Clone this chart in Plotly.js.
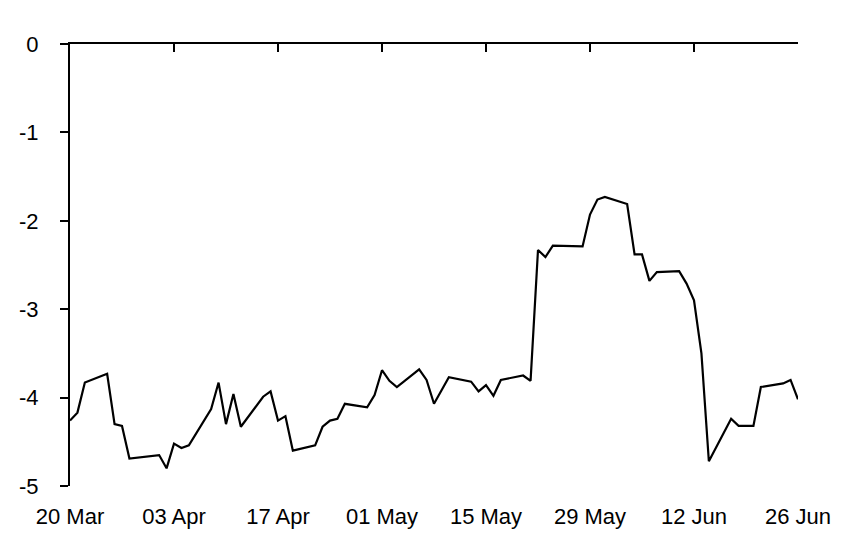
<!DOCTYPE html>
<html>
<head>
<meta charset="utf-8">
<script src="https://cdn.plot.ly/plotly-3.0.1.min.js"></script>
<style>html,body{margin:0;padding:0;background:#fff;}#chart{width:852px;height:539px;}</style>
</head>
<body>
<div id="chart"></div>
<script>
const dates = [
  "2019-03-20","2019-03-21","2019-03-22","2019-03-25","2019-03-26","2019-03-27","2019-03-28",
  "2019-04-01","2019-04-02","2019-04-03","2019-04-04","2019-04-05",
  "2019-04-08","2019-04-09","2019-04-10","2019-04-11","2019-04-12",
  "2019-04-15","2019-04-16","2019-04-17","2019-04-18","2019-04-19",
  "2019-04-22","2019-04-23","2019-04-24","2019-04-25","2019-04-26",
  "2019-04-29","2019-04-30","2019-05-01","2019-05-02","2019-05-03",
  "2019-05-06","2019-05-07","2019-05-08","2019-05-10",
  "2019-05-13","2019-05-14","2019-05-15","2019-05-16","2019-05-17",
  "2019-05-20","2019-05-21","2019-05-22","2019-05-23","2019-05-24",
  "2019-05-28","2019-05-29","2019-05-30","2019-05-31",
  "2019-06-03","2019-06-04","2019-06-05","2019-06-06","2019-06-07",
  "2019-06-10","2019-06-11","2019-06-12","2019-06-13","2019-06-14",
  "2019-06-17","2019-06-18","2019-06-20","2019-06-21",
  "2019-06-24","2019-06-25","2019-06-26"
];
const values = [
  -4.26,-4.17,-3.83,-3.73,-4.30,-4.32,-4.69,
  -4.65,-4.80,-4.52,-4.57,-4.54,
  -4.13,-3.83,-4.30,-3.96,-4.33,
  -3.99,-3.93,-4.26,-4.21,-4.60,
  -4.54,-4.33,-4.26,-4.24,-4.07,
  -4.11,-3.97,-3.69,-3.81,-3.88,
  -3.68,-3.80,-4.07,-3.77,
  -3.82,-3.93,-3.86,-3.98,-3.80,
  -3.75,-3.81,-2.33,-2.41,-2.28,
  -2.29,-1.93,-1.76,-1.73,
  -1.81,-2.38,-2.38,-2.68,-2.58,
  -2.57,-2.71,-2.90,-3.50,-4.72,
  -4.24,-4.32,-4.32,-3.88,
  -3.84,-3.80,-4.02
];
const yTickVals = [0, -1, -2, -3, -4, -5];
const yTickText = ["0", "-1", "-2", "-3", "-4", "-5"];
const xStart = "2019-03-20";
const xEnd = "2019-06-26";

const font = {family: "Arial, 'Liberation Sans', sans-serif", size: 22, color: "#000"};

const trace = {
  x: dates, y: values, type: "scatter", mode: "lines",
  line: {color: "#000", width: 2.2}, hoverinfo: "skip", showlegend: false
};
const dummyTop = {
  x: [xStart, xEnd], y: [null, null], xaxis: "x2", yaxis: "y",
  type: "scatter", mode: "lines", showlegend: false, hoverinfo: "skip"
};

const layout = {
  width: 852, height: 539,
  margin: {l: 70, r: 54, t: 44, b: 53, pad: 0},
  paper_bgcolor: "#fff", plot_bgcolor: "#fff",
  font: font,
  xaxis: {
    type: "date", range: [xStart, xEnd],
    tick0: xStart, dtick: 14 * 86400000, tickformat: "%d %b",
    showline: false, ticks: "", showgrid: false, zeroline: false,
    tickfont: font, ticklabelstandoff: 15
  },
  xaxis2: {
    type: "date", range: [xStart, xEnd], overlaying: "x", side: "top", anchor: "y",
    tick0: xStart, dtick: 14 * 86400000,
    showline: true, linecolor: "#000", linewidth: 2,
    ticks: "inside", ticklen: 8, tickwidth: 2, tickcolor: "#000",
    showticklabels: false, showgrid: false, zeroline: false
  },
  yaxis: {
    range: [-5, 0], tickmode: "array", tickvals: yTickVals, ticktext: yTickText,
    showline: true, linecolor: "#000", linewidth: 2,
    ticks: "outside", ticklen: 8, tickwidth: 2, tickcolor: "#000",
    showgrid: false, zeroline: false, tickfont: font, ticklabelstandoff: 17
  }
};

Plotly.newPlot("chart", [trace, dummyTop], layout, {staticPlot: true, displayModeBar: false});
</script>
</body>
</html>
